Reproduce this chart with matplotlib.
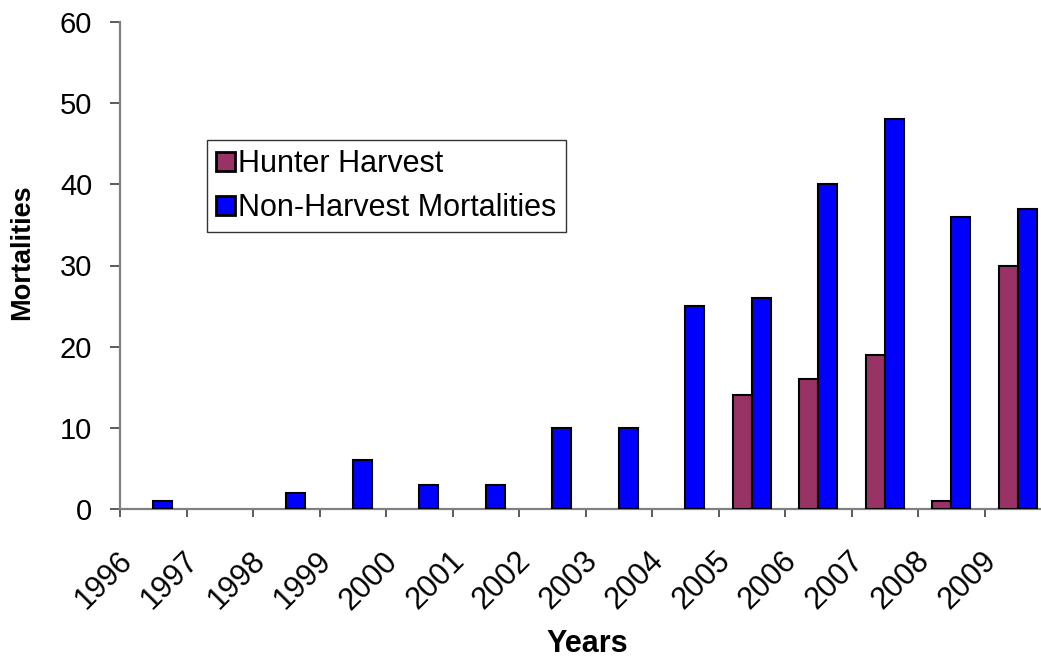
import numpy as np
import matplotlib
matplotlib.use("Agg")
import matplotlib.pyplot as plt
from matplotlib.transforms import ScaledTranslation

plt.rcParams["font.family"] = ["Liberation Sans", "DejaVu Sans"]

# ============================================================
#  Data
# ============================================================

years = ["1996", "1997", "1998", "1999", "2000", "2001", "2002",
         "2003", "2004", "2005", "2006", "2007", "2008", "2009"]
hunter_harvest = [0, 0, 0, 0, 0, 0, 0, 0, 0, 14, 16, 19, 1, 30]
non_harvest = [1, 0, 2, 6, 3, 3, 10, 10, 25, 26, 40, 48, 36, 37]

HARVEST_COLOR = "#993366"
NONHARVEST_COLOR = "#0000FF"
AXIS_COLOR = "#808080"

# ============================================================
#  Plot
# ============================================================

W, H, DPI = 1041, 660, 100
fig = plt.figure(figsize=(W / DPI, H / DPI), dpi=DPI)

# plot area in pixels: x 120 -> right edge, y 22 -> 509
left, right, top, bottom = 120, 1041, 22, 509
pw, ph = right - left, bottom - top
ax = fig.add_axes([left / W, (H - bottom) / H, pw / W, ph / H])

cat_px = 66.5
x = np.arange(len(years))
bw = 19.0 / cat_px

b1 = ax.bar(x + 0.5 - bw / 2, hunter_harvest, width=bw, color=HARVEST_COLOR,
            edgecolor="black", linewidth=1.5, label="Hunter Harvest", zorder=3)
b2 = ax.bar(x + 0.5 + bw / 2, non_harvest, width=bw, color=NONHARVEST_COLOR,
            edgecolor="black", linewidth=1.5, label="Non-Harvest Mortalities",
            zorder=3)
# Excel draws nothing for zero values
for bars in (b1, b2):
    for r in bars:
        if r.get_height() == 0:
            r.set_linewidth(0)

ax.set_xlim(0, pw / cat_px)
ax.set_ylim(0, 60)
ax.set_yticks(np.arange(0, 61, 10))
ax.set_xticks(x)
ax.set_xticklabels(years, rotation=45, ha="right", va="center",
                   rotation_mode="anchor", fontsize=22)

ax.tick_params(axis="x", direction="out", length=6, width=1.2,
               color="#404040", pad=25)
ax.tick_params(axis="y", direction="out", length=7, width=1.2,
               color="#404040", pad=13, labelsize=21)

for s in ("top", "right"):
    ax.spines[s].set_visible(False)
for s in ("left", "bottom"):
    ax.spines[s].set_color(AXIS_COLOR)
    ax.spines[s].set_linewidth(1.6)

ax.set_xlabel("Years", fontsize=22, fontweight="bold", va="center")
ax.xaxis.set_label_coords((587 - left) / pw, -(644 - bottom) / ph)
ax.set_ylabel("Mortalities", fontsize=19.5, fontweight="bold", va="center")
ax.yaxis.set_label_coords(-(left - 22) / pw, (bottom - 252) / ph)

leg = ax.legend(loc="upper left",
                bbox_to_anchor=((207 - left) / pw, (bottom - 140) / ph),
                fontsize=22, frameon=True, fancybox=False, edgecolor="black",
                handlelength=0.6, handleheight=0.6, handletextpad=0.12,
                borderpad=0.3, labelspacing=0.46, borderaxespad=0)
leg.get_frame().set_linewidth(1.0)
for h in leg.legend_handles:
    h.set_linewidth(2.0)

# place each rotated year label like Excel: right end just right of its
# tick, top of the label a little below the axis line
fig.canvas.draw()
renderer = fig.canvas.get_renderer()
for i, lab in enumerate(ax.get_xticklabels()):
    bb = lab.get_window_extent(renderer)
    tx, ty = ax.transData.transform((i, 0))
    off_x = (tx + 18) - bb.x1
    off_y = (ty - 37) - bb.y1
    lab.set_transform(lab.get_transform() +
                      ScaledTranslation(off_x / DPI, off_y / DPI, fig.dpi_scale_trans))

fig.savefig("out.png", dpi=DPI)
